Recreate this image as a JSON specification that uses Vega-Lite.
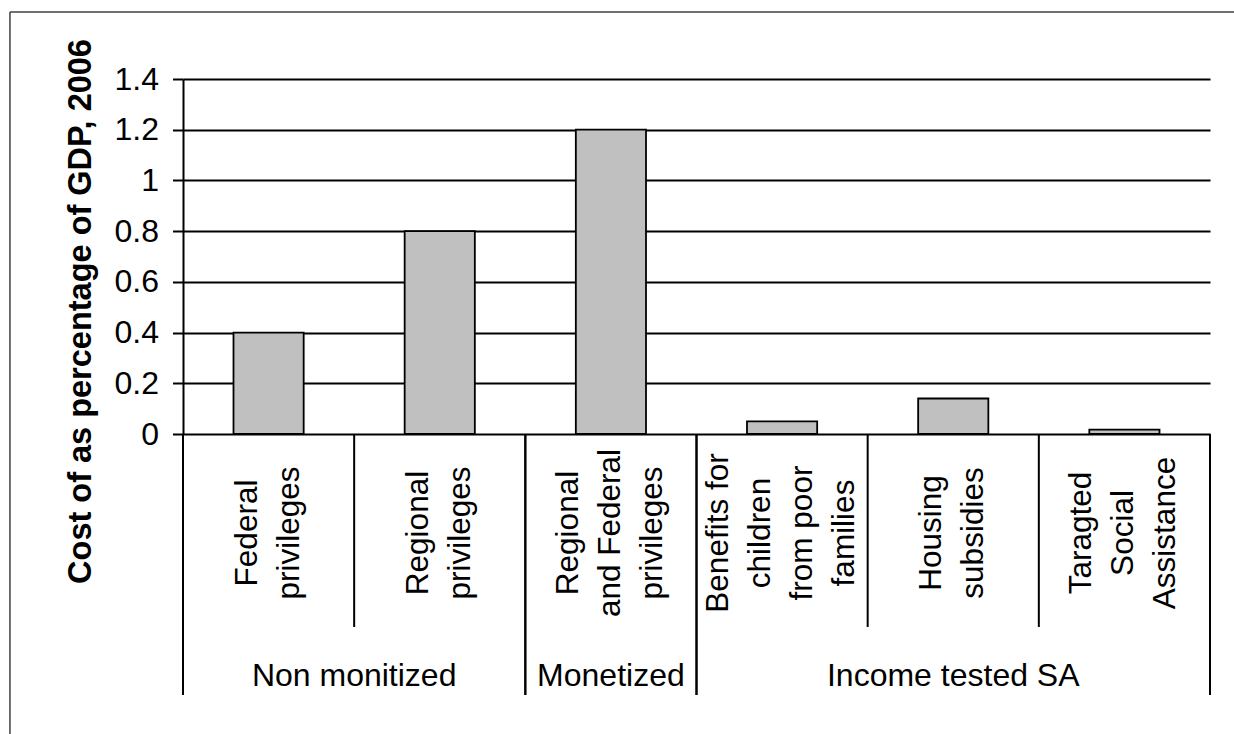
{
  "$schema": "https://vega.github.io/schema/vega-lite/v6.json",
  "autosize": {"type": "none"},
  "padding": {"left": 183, "top": 79, "right": 24, "bottom": 300},
  "width": 1027,
  "height": 355,
  "background": "white",
  "config": {"view": {"stroke": null}, "font": "Liberation Sans"},
  "datasets": {
    "programs": [
      {"cat": "Federal privileges", "label": "Federal\nprivileges", "group": "Non monitized", "value": 0.4},
      {"cat": "Regional privileges", "label": "Regional\nprivileges", "group": "Non monitized", "value": 0.8},
      {"cat": "Regional and Federal privileges", "label": "Regional\nand Federal\nprivileges", "group": "Monetized", "value": 1.2},
      {"cat": "Benefits for children from poor families", "label": "Benefits for\nchildren\nfrom poor\nfamilies", "group": "Income tested SA", "value": 0.05},
      {"cat": "Housing subsidies", "label": "Housing\nsubsidies", "group": "Income tested SA", "value": 0.14},
      {"cat": "Taragted Social Assistance", "label": "Taragted\nSocial\nAssistance", "group": "Income tested SA", "value": 0.017}
    ]
  },
  "layer": [
    {
      "data": {"name": "programs"},
      "transform": [
        {"window": [{"op": "row_number", "as": "pos"}], "groupby": ["group"]},
        {"joinaggregate": [{"op": "count", "as": "n"}], "groupby": ["group"]}
      ],
      "layer": [
        {
          "mark": {"type": "bar", "width": {"band": 0.41}, "fill": "#c0c0c0", "stroke": "black", "strokeWidth": 1.8},
          "encoding": {
            "x": {"field": "cat", "type": "nominal", "sort": null, "axis": null,
              "scale": {"domain": ["Federal privileges", "Regional privileges", "Regional and Federal privileges", "Benefits for children from poor families", "Housing subsidies", "Taragted Social Assistance"], "paddingInner": 0, "paddingOuter": 0}},
            "y": {"field": "value", "type": "quantitative",
              "scale": {"domain": [0, 1.4], "nice": false, "zero": true},
              "axis": {"title": "Cost of as percentage of GDP, 2006", "values": [0, 0.2, 0.4, 0.6, 0.8, 1, 1.2, 1.4], "format": "~g",
                "grid": true, "gridColor": "black", "gridWidth": 2, "gridOpacity": 1,
                "domainColor": "black", "domainWidth": 2, "tickColor": "black", "tickWidth": 2, "tickSize": 10.5,
                "labelFontSize": 32, "labelFont": "Liberation Sans", "labelColor": "black", "labelPadding": 14, "labelOverlap": false,
                "titleFont": "Liberation Sans", "titleFontSize": 32.5, "titleFontWeight": "bold", "titleColor": "black",
                "titleAngle": 270, "titleAlign": "center", "titleBaseline": "alphabetic", "titleX": -93, "titleY": 232}}
          }
        },
        {
          "transform": [{"filter": "datum.pos > 1"}],
          "mark": {"type": "rule", "color": "black", "strokeWidth": 2},
          "encoding": {
            "x": {"field": "cat", "type": "nominal", "sort": null, "bandPosition": 0},
            "y": {"datum": 0},
            "y2": {"datum": -0.761}
          }
        },
        {
          "transform": [{"filter": "datum.pos == 1"}],
          "mark": {"type": "rule", "color": "black", "strokeWidth": 2},
          "encoding": {
            "x": {"field": "cat", "type": "nominal", "sort": null, "bandPosition": 0},
            "y": {"datum": 0},
            "y2": {"datum": -1.029}
          }
        },
        {
          "transform": [{"filter": "datum.pos == datum.n"}],
          "mark": {"type": "rule", "color": "black", "strokeWidth": 2},
          "encoding": {
            "x": {"field": "cat", "type": "nominal", "sort": null, "bandPosition": 1},
            "y": {"datum": 0},
            "y2": {"datum": -1.029}
          }
        },
        {
          "mark": {"type": "text", "angle": 270, "align": "center", "baseline": "middle", "lineBreak": "\n", "lineHeight": 42, "fontSize": 31.5, "font": "Liberation Sans", "color": "black",
            "dy": {"expr": "-(length(split(datum.label, '\\n')) - 1) * 21"}},
          "encoding": {
            "x": {"field": "cat", "type": "nominal", "sort": null},
            "y": {"datum": -0.3904},
            "text": {"field": "label"}
          }
        },
        {
          "transform": [{"filter": "datum.n % 2 == 1 && datum.pos == (datum.n + 1) / 2"}],
          "mark": {"type": "text", "align": "center", "baseline": "alphabetic", "fontSize": 32, "font": "Liberation Sans", "color": "black"},
          "encoding": {
            "x": {"field": "cat", "type": "nominal", "sort": null, "bandPosition": 0.5},
            "y": {"datum": -0.9938},
            "text": {"field": "group"}
          }
        },
        {
          "transform": [{"filter": "datum.n % 2 == 0 && datum.pos == datum.n / 2"}],
          "mark": {"type": "text", "align": "center", "baseline": "alphabetic", "fontSize": 32, "font": "Liberation Sans", "color": "black"},
          "encoding": {
            "x": {"field": "cat", "type": "nominal", "sort": null, "bandPosition": 1},
            "y": {"datum": -0.9938},
            "text": {"field": "group"}
          }
        }
      ]
    },
    {
      "data": {"values": [{"part": "frame"}]},
      "layer": [
        {
          "mark": {"type": "rule", "color": "#404040", "strokeWidth": 1.5},
          "encoding": {
            "x": {"datum": -0.1685, "type": "quantitative", "scale": {"domain": [0, 1], "nice": false, "zero": false}, "axis": null},
            "x2": {"datum": 1.2},
            "y": {"datum": 1.1887, "type": "quantitative", "scale": {"domain": [0, 1], "nice": false, "zero": false}, "axis": null}
          }
        },
        {
          "mark": {"type": "rule", "color": "#404040", "strokeWidth": 1.5},
          "encoding": {
            "x": {"datum": -0.1685, "type": "quantitative", "scale": {"domain": [0, 1], "nice": false, "zero": false}, "axis": null},
            "y": {"datum": 1.1887, "type": "quantitative", "scale": {"domain": [0, 1], "nice": false, "zero": false}, "axis": null},
            "y2": {"datum": -1}
          }
        }
      ]
    }
  ],
  "resolve": {"scale": {"x": "independent", "y": "independent"}}
}
